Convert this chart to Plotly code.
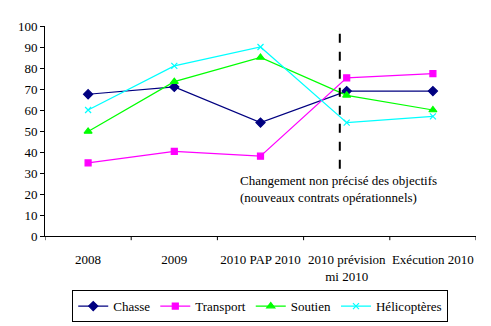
import plotly.graph_objects as go

categories = ["2008", "2009", "2010 PAP 2010", "2010 prévision<br>mi 2010", "Exécution 2010"]
chasse = [67.5, 71, 54, 69, 69]
transport = [34.8, 40.3, 38, 75.3, 77.3]
soutien = [49.8, 73.5, 85, 67, 60]
helicopteres = [60, 81, 90, 54, 57]
y_ticks = list(range(0, 101, 10))
annotation_text = "Changement non précisé des objectifs<br>(nouveaux contrats opérationnels)"

series = [
    ("Chasse", chasse, "#000080", "diamond", 7),
    ("Transport", transport, "#FF00FF", "square", 6),
    ("Soutien", soutien, "#00FF00", "triangle-up", 7),
    ("Hélicoptères", helicopteres, "#00FFFF", "x-thin", 6),
]

font = "Liberation Serif, Times New Roman, serif"
fig = go.Figure()
xs = list(range(len(categories)))
for name, vals, color, sym, size in series:
    fig.add_trace(go.Scatter(
        x=xs, y=vals, name=name, mode="lines+markers",
        line=dict(color=color, width=1.2),
        marker=dict(symbol=sym, size=size, color=color, line=dict(color=color, width=1.2)),
    ))

fig.add_shape(type="line", xref="x", yref="y", x0=2.92, x1=2.92, y0=32, y1=100,
              line=dict(color="black", width=2, dash="dash"))
fig.add_annotation(x=1.74, y=31, xref="x", yref="y", text=annotation_text,
                   showarrow=False, xanchor="left", yanchor="top", align="left",
                   font=dict(family=font, size=13, color="black"))

fig.update_layout(
    width=491, height=326,
    margin=dict(l=45, r=15, t=26, b=90),
    paper_bgcolor="white", plot_bgcolor="white",
    font=dict(family=font, size=13, color="black"),
    showlegend=True,
    legend=dict(orientation="h", x=0.53, xanchor="center", xref="container",
                y=0.11, yanchor="top", yref="container",
                bordercolor="black", borderwidth=1, font=dict(family=font, size=13),
                itemwidth=30, tracegroupgap=0),
    xaxis=dict(range=[-0.5, 4.5], tickmode="array", tickvals=xs, ticktext=categories,
               showline=True, linecolor="black", linewidth=1, ticks="", showgrid=False,
               zeroline=False, tickfont=dict(family=font, size=13), automargin=False,
               ticklabelstandoff=11),
    yaxis=dict(range=[0, 100], tickvals=y_ticks, showline=True, linecolor="black",
               linewidth=1, ticks="outside", ticklen=4, tickcolor="black",
               showgrid=False, zeroline=False, tickfont=dict(family=font, size=13),
               automargin=False),
)
for b in [-0.5, 0.5, 1.5, 2.5, 3.5, 4.5]:
    fig.add_shape(type="line", xref="x", yref="paper", x0=b, x1=b, y0=0, y1=-0.02,
                  line=dict(color="black", width=1))

fig.write_html("out.html")
